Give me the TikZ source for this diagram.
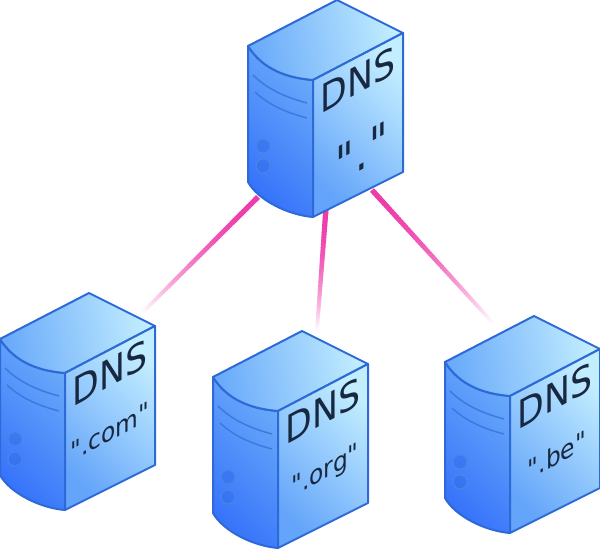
\documentclass[tikz,border=0pt]{standalone}
\usepackage{fontspec}
\setmainfont{DejaVu Sans}[Ligatures=TeXOff]
\usetikzlibrary{calc}

\definecolor{srvline}{RGB}{45,105,215}
\definecolor{srvdark}{RGB}{55,115,250}
\definecolor{srvmid}{RGB}{105,170,250}
\definecolor{srvpale}{RGB}{195,238,255}
\definecolor{srvink}{RGB}{25,40,65}
\definecolor{linkpink}{RGB}{238,60,170}

\tikzset{
    srvedge/.style={draw=srvline, line width=1.5pt, line join=round},
    srvslot/.style={draw=srvline!75!srvmid, line width=1.1pt},
    srvled/.style={draw=srvline!55!srvmid, fill=srvline!45!srvdark, fill opacity=0.55, line width=0.8pt},
    srvtext/.style={yslant=0.54, yscale=1.12, text=srvink, inner sep=0pt},
    srvzone/.style={srvtext, font=\fontsize{17.5}{17.5}\selectfont},
    pics/server/.style={code={
        % Faces
        \shade[srvedge, left color=srvdark, right color=srvmid, shading angle=135]
            (0,46) .. controls (15,70) and (40,78) .. (65,80) -- (65,217)
            .. controls (40,215) and (10,200) .. (0,182) -- cycle;
        \shade[srvedge, left color=srvmid, right color=srvpale, shading angle=100]
            (0,46) -- (89,0) -- (155,33) -- (65,80) .. controls (40,78) and (15,70) .. (0,46) -- cycle;
        \shade[srvedge, left color=srvmid!90!srvdark, right color=srvpale, shading angle=135]
            (65,80) -- (155,33) -- (155,172) -- (65,217) -- cycle;
        % Slots and lights
        \draw[srvslot] (5,75) .. controls (20,90) and (40,98) .. (59,103);
        \draw[srvslot] (7,92) .. controls (22,106) and (40,113) .. (59,118);
        \draw[srvled] (15,146) circle (7);
        \draw[srvled] (15,166) circle (7);
        % Labels
        \node[srvtext, font=\fontsize{26}{26}\selectfont] (-dns) at (110,80) {DNS};
        #1
    }},
}

% Fading link from a to b
\newcommand{\fadelink}[2]{
    \foreach \t in {0,2,...,98} {
        \pgfmathsetmacro{\tend}{(\t+2.6)/100}
        \pgfmathsetmacro{\tstart}{\t/100}
        \pgfmathsetmacro{\tone}{100-\t*\t/100}
        \draw[color=linkpink!\tone!white, line width={4pt-1.4pt*\t/100}]
            ($(#1)!\tstart!(#2)$) -- ($(#1)!\tend!(#2)$);
    }
}

\begin{document}
\begin{tikzpicture}[x=0.75pt, y=-0.75pt]
    \useasboundingbox (0,0) rectangle (600,549);

    % Ends of the links
    \coordinate (comend) at (143,312);
    \coordinate (orgend) at (317,330);
    \coordinate (beend) at (492,322);
    \coordinate (topa) at (258,197);
    \coordinate (topb) at (326,208);
    \coordinate (topc) at (372,190);

    % Links
    \fadelink{topa}{comend}
    \fadelink{topb}{orgend}
    \fadelink{topc}{beend}

    % Servers
    \pic (top) at (248,0) {server={\node[srvtext, yscale=1.1, font=\fontsize{30}{30}\selectfont] (-zone) at (114,152) {"\kern1pt.\kern1pt"};}};
    \pic (com) at (0,293) {server={\node[srvzone] (-zone) at (110,139) {".com"};}};
    \pic (org) at (213,331) {server={\node[srvzone] (-zone) at (112,141) {".org"};}};
    \pic (be) at (445,316) {server={\node[srvzone] (-zone) at (112,139) {".be"};}};
\end{tikzpicture}
\end{document}
